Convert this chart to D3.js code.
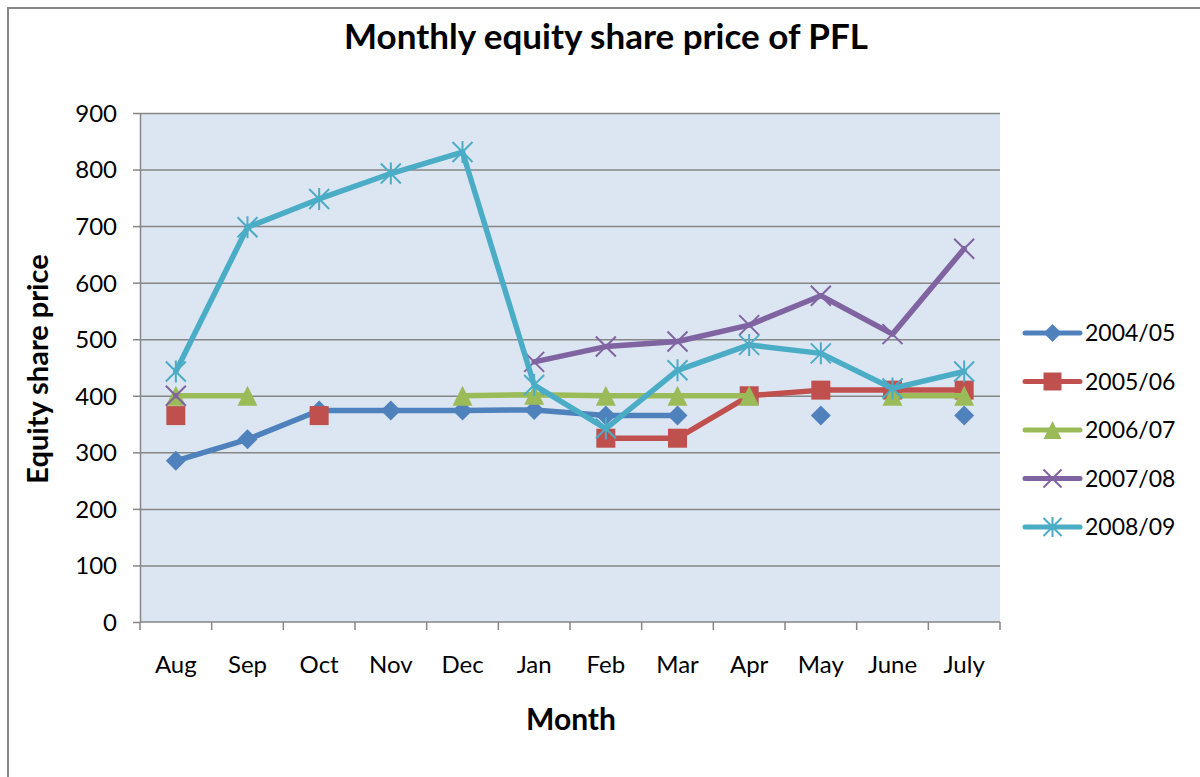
<!DOCTYPE html>
<meta charset="utf-8">
<script src="https://d3js.org/d3.v7.min.js"></script>
<style>
	body { margin: 0; background: #fff; }
	svg { display: block; font-family: Lato, sans-serif; }
	.axis path, .axis line { stroke: #868686; stroke-width: 1.5px; }
	.axis text { font-family: Lato, sans-serif; font-size: 24px; fill: #000; }
	.grid line { stroke: #868686; stroke-width: 1.5px; }
	.grid path { display: none; }
</style>
<body>
	<div id="chart"></div>
</body>
<script>
	const width = 1200, height = 777;

	// data (null = no value that month)
	const months = ["Aug", "Sep", "Oct", "Nov", "Dec", "Jan", "Feb", "Mar", "Apr", "May", "June", "July"];
	const yTicks = [0, 100, 200, 300, 400, 500, 600, 700, 800, 900];
	const seriesNames = ["2004/05", "2005/06", "2006/07", "2007/08", "2008/09"];
	const seriesColors = ["#4f81bd", "#c0504d", "#9bbb59", "#8064a2", "#4bacc6"];
	const seriesMarkers = ["diamond", "square", "triangle", "x", "star"];
	const s0405 = [285, 323, 374, 374, 374, 375, 365, 365, null, 365, null, 365];
	const s0506 = [365, null, 365, null, null, null, 325, 325, 400, 410, 410, 410];
	const s0607 = [400, 400, null, null, 400, 402, 400, 400, 400, null, 400, 400];
	const s0708 = [400, null, null, null, null, 460, 487, 496, 525, 577, 509, 660];
	const s0809 = [443, 698, 748, 793, 831, 419, 342, 445, 490, 475, 413, 443];
	const seriesValues = [s0405, s0506, s0607, s0708, s0809];

	const plot = {left: 140, right: 1000, top: 113, bottom: 622};

	const svg = d3.select("#chart").append("svg")
		.attr("width", width)
		.attr("height", height);

	// outer chart frame (cut off at right and bottom like the original)
	svg.append("rect")
		.attr("x", 8).attr("y", 8)
		.attr("width", width + 20).attr("height", height + 20)
		.attr("fill", "#fff")
		.attr("stroke", "#878787")
		.attr("stroke-width", 2);

	const x = d3.scaleBand().domain(months).range([plot.left, plot.right]);
	const y = d3.scaleLinear().domain([0, 900]).range([plot.bottom, plot.top]);
	const cx = m => x(m) + x.bandwidth() / 2;

	svg.append("rect")
		.attr("x", plot.left).attr("y", plot.top)
		.attr("width", plot.right - plot.left).attr("height", plot.bottom - plot.top)
		.attr("fill", "#dce6f2");

	svg.append("g")
		.attr("class", "grid")
		.attr("transform", "translate(" + plot.left + ",0)")
		.call(d3.axisLeft(y).tickValues(yTicks.slice(1)).tickSize(-(plot.right - plot.left)).tickFormat(""));

	svg.append("g")
		.attr("class", "axis")
		.attr("transform", "translate(" + plot.left + ",0)")
		.call(d3.axisLeft(y).tickValues(yTicks).tickSize(7).tickPadding(16).tickSizeOuter(0))
		.selectAll("text").attr("dy", "0.35em");

	// x axis: labels at centres, ticks at category edges
	const xAxis = svg.append("g")
		.attr("class", "axis")
		.attr("transform", "translate(0," + plot.bottom + ")");
	xAxis.append("line")
		.attr("x1", plot.left).attr("x2", plot.right);
	xAxis.selectAll(".edge")
		.data(months.map(m => x(m)).concat([x.range()[1]]))
		.enter().append("line")
		.attr("class", "edge")
		.attr("x1", d => d).attr("x2", d => d)
		.attr("y1", 0).attr("y2", 8);
	xAxis.selectAll(".lab")
		.data(months)
		.enter().append("text")
		.attr("class", "lab")
		.attr("x", cx)
		.attr("y", 51)
		.attr("text-anchor", "middle")
		.text(d => d);

	// marker shapes
	function markerPath(type, r) {
		if (type === "diamond") return "M0," + (-r) + "L" + r + ",0L0," + r + "L" + (-r) + ",0Z";
		if (type === "square") return "M" + (-r) + "," + (-r) + "H" + r + "V" + r + "H" + (-r) + "Z";
		if (type === "triangle") return "M0," + (-r) + "L" + r + "," + r + "H" + (-r) + "Z";
		if (type === "x") return "M" + (-r) + "," + (-r) + "L" + r + "," + r + "M" + r + "," + (-r) + "L" + (-r) + "," + r;
		return "M" + (-r) + "," + (-r) + "L" + r + "," + r + "M" + r + "," + (-r) + "L" + (-r) + "," + r + "M0," + (-r - 1) + "V" + (r + 1);
	}
	function drawMarker(sel, type, color, r) {
		const open = type === "x" || type === "star";
		sel.append("path")
			.attr("d", markerPath(type, r))
			.attr("fill", open ? "none" : color)
			.attr("stroke", color)
			.attr("stroke-width", open ? 2 : 0);
	}

	const line = d3.line()
		.defined(d => d.v != null)
		.x(d => cx(d.m))
		.y(d => y(d.v));

	seriesValues.forEach(function(vals, i) {
		const pts = months.map((m, j) => ({m: m, v: vals[j]}));
		const g = svg.append("g");
		g.append("path")
			.datum(pts)
			.attr("d", line)
			.attr("fill", "none")
			.attr("stroke", seriesColors[i])
			.attr("stroke-width", 5.5)
			.attr("stroke-linejoin", "round")
			.attr("stroke-linecap", "round");
		pts.filter(d => d.v != null).forEach(function(d) {
			const mg = g.append("g").attr("transform", "translate(" + cx(d.m) + "," + y(d.v) + ")");
			drawMarker(mg, seriesMarkers[i], seriesColors[i], seriesMarkers[i] === "square" ? 9.5 : 10);
		});
	});

	// legend
	const legend = svg.append("g").attr("transform", "translate(1025,333)");
	seriesNames.forEach(function(name, i) {
		const row = legend.append("g").attr("transform", "translate(0," + (i * 48.5) + ")");
		row.append("line")
			.attr("x1", 0).attr("x2", 55)
			.attr("stroke", seriesColors[i])
			.attr("stroke-width", 5)
			.attr("stroke-linecap", "round");
		const mg = row.append("g").attr("transform", "translate(27.5,0)");
		drawMarker(mg, seriesMarkers[i], seriesColors[i], 9);
		row.append("text")
			.attr("x", 60)
			.attr("dy", "0.35em")
			.style("font-size", "23px")
			.text(name);
	});

	// titles
	svg.append("text")
		.attr("x", 606).attr("y", 49)
		.attr("text-anchor", "middle")
		.style("font-size", "35px").style("font-weight", "bold")
		.text("Monthly equity share price of PFL");

	svg.append("text")
		.attr("x", 571).attr("y", 730)
		.attr("text-anchor", "middle")
		.style("font-size", "30px").style("font-weight", "bold")
		.text("Month");

	svg.append("text")
		.attr("transform", "translate(48,369) rotate(-90)")
		.attr("text-anchor", "middle")
		.style("font-size", "29px").style("font-weight", "bold")
		.text("Equity share price");
</script>
